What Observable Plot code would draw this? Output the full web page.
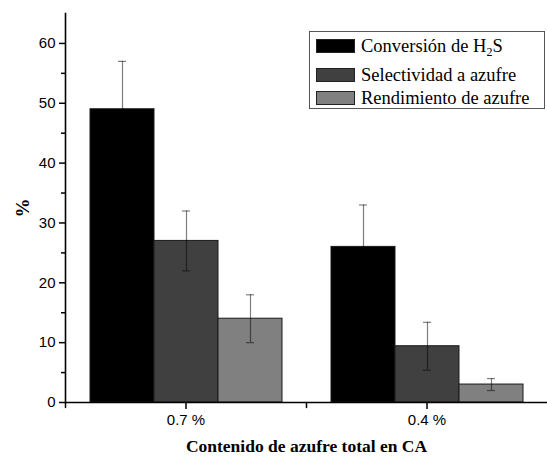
<!DOCTYPE html>
<html>
<head>
<meta charset="utf-8">
<script src="https://cdn.jsdelivr.net/npm/d3@7"></script>
<script src="https://cdn.jsdelivr.net/npm/@observablehq/plot@0.6"></script>
<style>
  html, body { margin: 0; padding: 0; background: #fff; }
  #wrap { position: relative; width: 547px; height: 456px; }
  #legend {
    position: absolute; left: 309px; top: 31px; width: 236px; height: 78px;
    border: 1px solid #555; background: #fff; box-sizing: border-box;
    font-family: "Liberation Serif", "Times New Roman", Times, "DejaVu Serif", serif; font-size: 18.5px; color: #000;
  }
  .row { position: absolute; left: 6px; height: 22px; display: flex; align-items: center; white-space: nowrap; }
  .sw { width: 39px; height: 14px; border: 1px solid #222; margin-right: 6px; box-sizing: border-box; }
  sub { font-size: 12px; vertical-align: -4px; line-height: 0; }
</style>
</head>
<body>
<div id="wrap"></div>
<script>
const categories = ["0.7 %", "0.4 %"];
const series = ["Conversión de H2S", "Selectividad a azufre", "Rendimiento de azufre"];
const conversion = [49, 26];
const conversionErr = [8, 7];
const selectivity = [27, 9.4];
const selectivityErr = [5, 4];
const sulfurYield = [14, 3];
const sulfurYieldErr = [4, 1];
const colors = ["#000000", "#404040", "#808080"];
const yTicks = [0, 10, 20, 30, 40, 50, 60];
const yMinorTicks = [5, 15, 25, 35, 45, 55];
const xTitle = "Contenido de azufre total en CA";
const yTitle = "%";

const values = [conversion, selectivity, sulfurYield];
const errors = [conversionErr, selectivityErr, sulfurYieldErr];
const data = [];
categories.forEach((c, i) => series.forEach((s, j) => {
  data.push({cat: c, series: s, value: values[j][i], lo: values[j][i] - errors[j][i], hi: values[j][i] + errors[j][i]});
}));

const tickShape = { draw(ctx, l) { ctx.moveTo(0, 0); ctx.lineTo(0, -l); } };
const serifFont = "'Liberation Serif', 'Times New Roman', Times, 'DejaVu Serif', serif";

const chart = Plot.plot({
  width: 547,
  height: 456,
  marginLeft: 64,
  marginRight: 0,
  marginTop: 13,
  marginBottom: 54,
  style: {fontFamily: "'Liberation Sans', Arial, sans-serif", fontSize: "15px", color: "#000", background: "#fff"},
  fx: {domain: categories, padding: 0},
  x: {domain: series, paddingInner: 0, paddingOuter: 0.37, axis: null},
  y: {domain: [0, 65]},
  color: {domain: series, range: colors},
  marks: [
    Plot.barY(data, {fx: "cat", x: "series", y: "value", fill: "series", stroke: "#1a1a1a", strokeWidth: 1}),
    Plot.ruleX(data, {fx: "cat", x: "series", y1: "lo", y2: "hi", stroke: "black", strokeOpacity: 0.5, strokeWidth: 1.2}),
    Plot.tickY(data, {fx: "cat", x: "series", y: "hi", insetLeft: 28, insetRight: 28, stroke: "black", strokeOpacity: 0.5, strokeWidth: 1.2}),
    Plot.tickY(data, {fx: "cat", x: "series", y: "lo", insetLeft: 28, insetRight: 28, stroke: "black", strokeOpacity: 0.5, strokeWidth: 1.2}),
    Plot.ruleY([0], {stroke: "#000", strokeWidth: 1.6}),
    Plot.frame({anchor: "left", facetAnchor: "left", stroke: "#000", strokeWidth: 1.6}),
    Plot.vector(categories, {fx: d => d, frameAnchor: "bottom-left", length: 5, rotate: 180, anchor: "start", shape: tickShape, stroke: "#000", strokeWidth: 1.5}),
    Plot.axisY({ticks: yTicks, tickSize: 6, tickPadding: 4, label: null, strokeWidth: 1.5, fontSize: 15}),
    Plot.axisY({ticks: yMinorTicks, tickSize: 4, text: null, label: null, strokeWidth: 1.5}),
    Plot.axisY({ticks: [], label: yTitle, labelAnchor: "center", labelArrow: "none", labelOffset: 50,
      fontFamily: serifFont, fontSize: 19, fontWeight: "bold"}),
    Plot.axisFx({anchor: "bottom", tickSize: 7, tickPadding: 5, label: null, strokeWidth: 1.5, fontSize: 15}),
    Plot.axisFx({anchor: "bottom", ticks: [], label: xTitle, labelAnchor: "center", labelArrow: "none", labelOffset: 49,
      fontFamily: serifFont, fontSize: 17.5, fontWeight: "bold"})
  ]
});

const wrap = document.getElementById("wrap");
wrap.appendChild(chart);

const color = chart.scale("color");
const legend = document.createElement("div");
legend.id = "legend";
const tops = [3, 32, 55];
series.forEach((s, j) => {
  const row = document.createElement("div");
  row.className = "row";
  row.style.top = tops[j] + "px";
  const sw = document.createElement("div");
  sw.className = "sw";
  sw.style.background = color.apply(s);
  const lab = document.createElement("span");
  lab.innerHTML = s.replace("H2S", "H<sub>2</sub>S");
  row.appendChild(sw);
  row.appendChild(lab);
  legend.appendChild(row);
});
wrap.appendChild(legend);
</script>
</body>
</html>
